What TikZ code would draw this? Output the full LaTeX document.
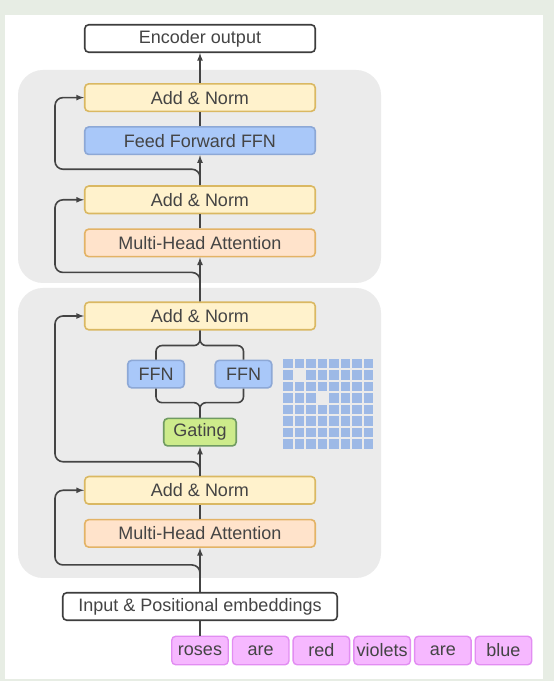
\documentclass[tikz,border=0pt]{standalone}
\usepackage{fontspec}
\setmainfont{Liberation Sans}
\usepackage{tikz}
\usetikzlibrary{arrows,positioning}

\definecolor{pagebg}{HTML}{E7EDE4}
\definecolor{panel}{HTML}{EBEBEB}
\definecolor{ink}{HTML}{444444}
\definecolor{normfill}{HTML}{FFF2CC}
\definecolor{normline}{HTML}{DAB862}
\definecolor{ffnfill}{HTML}{A9C8F9}
\definecolor{ffnline}{HTML}{8DA8D6}
\definecolor{attfill}{HTML}{FFE3CB}
\definecolor{attline}{HTML}{E3B366}
\definecolor{gatefill}{HTML}{CDEB8B}
\definecolor{gateline}{HTML}{709B62}
\definecolor{tokfill}{HTML}{F6B8FF}
\definecolor{tokline}{HTML}{E28DF2}
\definecolor{cell}{HTML}{9DB9E6}

\begin{document}
\begin{tikzpicture}[x=1pt,y=1pt,>=latex,
  box/.style={rounded corners=4pt,line width=1.6pt,minimum width=230.5pt,
    minimum height=27.5pt,inner sep=0pt,text=ink,font=\fontsize{18}{20}\selectfont},
  plain box/.style={box,fill=white,draw=ink!90!black},
  norm box/.style={box,fill=normfill,draw=normline},
  ffn box/.style={box,fill=ffnfill,draw=ffnline},
  att box/.style={box,fill=attfill,draw=attline},
  gate box/.style={box,fill=gatefill,draw=gateline,minimum width=72.5pt},
  token/.style={box,fill=tokfill,draw=tokline,line width=1.4pt,
    minimum width=56.5pt,minimum height=28.5pt},
  line/.style={draw=ink,line width=1.6pt},
  res/.style={line,->,rounded corners=8pt}]

  \useasboundingbox (0,0) rectangle (554,681);
  \fill[pagebg] (0,0) rectangle (554,681);
  \fill[white] (5,2) rectangle (543,666);

  % the two encoder blocks
  \fill[panel,rounded corners=25pt] (18,398) rectangle (381,611);
  \fill[panel,rounded corners=25pt] (18,103) rectangle (381,393);

  % lower block
  \node[plain box, minimum width=274.5pt] (input) at (200,74.5) {Input \& Positional embeddings};
  \node[att box] (mha1) [above=44pt of input] {Multi-Head Attention};
  \node[norm box] (add1) [above=14pt of mha1] {Add \& Norm};
  \node[gate box] (gating) [above=29pt of add1] {Gating};
  \node[ffn box, minimum width=56.5pt] (ffnl) [above=29pt of gating, xshift=-44pt] {FFN};
  \node[ffn box, minimum width=56.5pt] (ffnr) [above=29pt of gating, xshift=43.5pt] {FFN};
  \node[norm box] (add2) [above=29pt of ffnl, xshift=44pt] {Add \& Norm};

  % upper block
  \node[att box] (mha2) [above=44pt of add2] {Multi-Head Attention};
  \node[norm box] (add3) [above=14pt of mha2] {Add \& Norm};
  \node[ffn box] (ffn) [above=30pt of add3] {Feed Forward FFN};
  \node[norm box] (add4) [above=14pt of ffn] {Add \& Norm};
  \node[plain box] (out) [above=30pt of add4] {Encoder output};

  % tokens
  \foreach \w [count=\k from 0] in {roses,are,red,violets,are,blue}
    \node[token] (tok\k) at (200+60.7*\k,30.5) {\w};

  % experts grid
  \foreach \i in {0,...,7}{
    \foreach \j in {0,...,7}{
      \pgfmathtruncatemacro{\hole}{(\i==1 && \j==1) || (\i==3 && \j==3)}
      \ifnum\hole=0
        \fill[cell] (283+11.5*\i,322-11.5*\j) rectangle ++(9.5,-9.5);
      \fi
    }
  }

  % main path
  \draw[line] (input) -- (tok0);
  \draw[line,->] (input) -- (mha1);
  \draw[line] (mha1) -- (add1);
  \draw[line,->] (add1) -- (gating);
  \draw[line,rounded corners=6pt] (ffnl.south) |- ([yshift=15pt]gating.north) -- (gating.north);
  \draw[line,rounded corners=6pt] (ffnr.south) |- ([yshift=15pt]gating.north) -- (gating.north);
  \draw[line,rounded corners=6pt] (ffnl.north) |- ([yshift=-15pt]add2.south) -- (add2.south);
  \draw[line,rounded corners=6pt] (ffnr.north) |- ([yshift=-15pt]add2.south) -- (add2.south);
  \draw[line,->] (add2) -- (mha2);
  \draw[line] (mha2) -- (add3);
  \draw[line,->] (add3) -- (ffn);
  \draw[line] (ffn) -- (add4);
  \draw[line,->] (add4) -- (out);

  % residual connections
  \foreach \a/\b/\h in {input/add1/27, add1/add2/14, add2/add3/29, add3/add4/16}
    \draw[res] (\a.north) -- ++(0,\h) -- ++(-145,0) |- (\b.west);
\end{tikzpicture}
\end{document}
